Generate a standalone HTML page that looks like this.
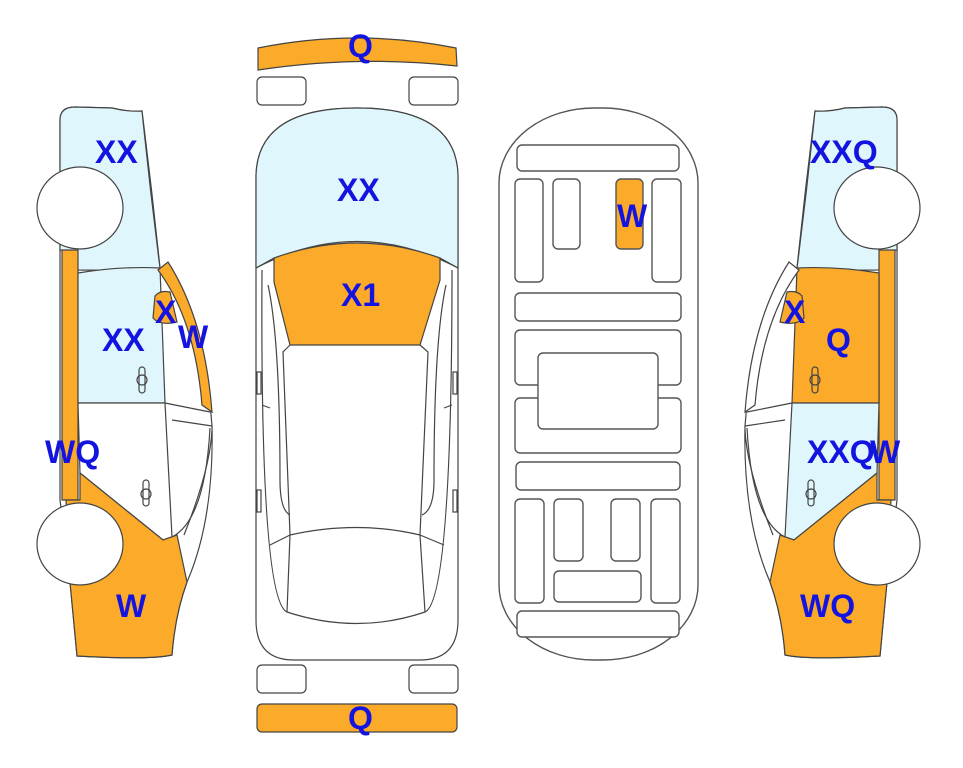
<!DOCTYPE html>
<html><head><meta charset="utf-8"><style>
html,body{margin:0;padding:0;background:#fff;}
svg{display:block;}
text{font-family:"Liberation Sans",Arial,sans-serif;font-weight:bold;font-size:32px;fill:#1414e0;}
.L{--top:#dff6fd;--strip:#fbaa2a;--dup:#dff6fd;--dlo:#fff;--bot:#fbaa2a;--pil:#fbaa2a;--blob:#fbaa2a;}
.R{--top:#dff6fd;--strip:#fbaa2a;--dup:#fbaa2a;--dlo:#dff6fd;--bot:#fbaa2a;--pil:#fff;--blob:#fbaa2a;}
</style></head><body>
<svg width="963" height="768" viewBox="0 0 963 768" xmlns="http://www.w3.org/2000/svg">
<defs>
<g id="side" stroke="#444" stroke-width="1.2">
  <path d="M60,120 Q60,107 75,107 L112,108 Q128,112 142,111 Q152,190 160,268 Q205,330 212,426 Q214,520 187,582 Q175,615 172,655 Q150,660 77,656 L70,582 L60,500 Z" fill="#fff"/>
  <path d="M60,120 Q60,107 75,107 L112,108 Q128,112 142,111 Q150,190 160,268 L150,272 Q110,270 77,270 L77,252 L60,250 Z" style="fill:var(--top)"/>
  <path d="M62,250 L78,250 L78,500 L62,500 Z" style="fill:var(--strip)"/>
  <path d="M78,273 Q120,266 160,268 L165,403 L78,403 Z" style="fill:var(--dup)"/>
  <path d="M78,403 L165,403 L172,537 L163,540 L80,473 Z" style="fill:var(--dlo)"/>
  <path d="M80,473 L163,540 L177,535 L187,582 Q175,615 172,655 Q150,660 77,656 L70,582 L66,500 L80,500 Z" style="fill:var(--bot)"/>
  <path d="M158,270 L168,262 Q205,320 212,412 L202,405 Q195,320 158,270 Z" style="fill:var(--pil)"/>
  <path d="M155,296 Q160,290 170,292 L177,322 Q160,326 153,318 Z" style="fill:var(--blob)"/>
  <path d="M165,403 L210,412 M172,420 L212,426 M172,537 Q205,520 210,428" fill="none"/>
  <path d="M184,535 Q210,470 212,430" fill="none"/>
  <rect x="139" y="367" width="6" height="26" rx="3" fill="none"/>
  <circle cx="142" cy="380" r="5" fill="none"/>
  <rect x="143" y="480" width="6" height="26" rx="3" fill="none"/>
  <circle cx="146" cy="494" r="5" fill="none"/>
  <ellipse cx="80" cy="208" rx="43" ry="41" fill="#fff"/>
  <ellipse cx="80" cy="544" rx="43" ry="41" fill="#fff"/>
</g>
</defs>

<g class="L"><use href="#side"/></g>
<g class="R" transform="translate(957,0) scale(-1,1)"><use href="#side"/></g>

<g stroke="#444" stroke-width="1.2">
  <path d="M258,48 Q357,28 456,48 L457,66 Q357,55 258,70 Z" fill="#fbaa2a"/>
  <rect x="257" y="77" width="49" height="28" rx="5" fill="#fff"/>
  <rect x="409" y="77" width="49" height="28" rx="5" fill="#fff"/>
  <path d="M256,175 Q258,108 357,108 Q456,108 458,175 L458,620 Q458,660 420,660 L294,660 Q256,660 256,620 Z" fill="#fff"/>
  <path d="M256,265 L256,175 Q258,108 357,108 Q456,108 458,175 L458,268 Q357,215 256,268 Z" fill="#dff6fd"/>
  <path d="M274,258 Q357,228 440,258 L440,280 L420,345 L290,345 L274,282 Z" fill="#fbaa2a"/>
  <g fill="none">
    <path d="M256,268 L274,258 M458,268 L440,258"/>
    <path d="M290,345 L283,352 L290,535 L287,612 Q357,635 425,612 L420,535 L428,352 L420,345"/>
    <path d="M290,535 Q357,520 420,535"/>
    <path d="M287,612 Q260,600 262,270 M425,612 Q452,600 452,270"/>
    <path d="M268,285 Q280,340 280,480 Q280,510 290,515 M446,285 Q434,340 434,480 Q434,510 422,515"/>
    <path d="M262,405 L270,408 M452,405 L444,408 M270,545 L290,535 M444,545 L420,535"/>
  </g>
  <rect x="257" y="372" width="4" height="22" fill="#fff"/>
  <rect x="453" y="372" width="4" height="22" fill="#fff"/>
  <rect x="257" y="490" width="4" height="22" fill="#fff"/>
  <rect x="453" y="490" width="4" height="22" fill="#fff"/>
  <rect x="257" y="665" width="49" height="28" rx="5" fill="#fff"/>
  <rect x="409" y="665" width="49" height="28" rx="5" fill="#fff"/>
  <rect x="257" y="704" width="200" height="28" rx="5" fill="#fbaa2a"/>
</g>

<g stroke="#555" stroke-width="1.4" fill="#fff">
  <rect x="499" y="108" width="199" height="552" rx="95" ry="75"/>
  <rect x="517" y="145" width="162" height="26" rx="5"/>
  <rect x="515" y="179" width="28" height="103" rx="5"/>
  <rect x="553" y="179" width="27" height="70" rx="5"/>
  <rect x="616" y="179" width="27" height="70" rx="5" fill="#fbaa2a"/>
  <rect x="652" y="179" width="29" height="103" rx="5"/>
  <rect x="515" y="293" width="166" height="28" rx="5"/>
  <rect x="515" y="330" width="166" height="55" rx="5"/>
  <rect x="515" y="398" width="166" height="55" rx="5"/>
  <rect x="538" y="353" width="120" height="76" rx="5"/>
  <rect x="516" y="462" width="164" height="28" rx="5"/>
  <rect x="515" y="499" width="29" height="104" rx="5"/>
  <rect x="554" y="499" width="29" height="62" rx="5"/>
  <rect x="611" y="499" width="29" height="62" rx="5"/>
  <rect x="651" y="499" width="29" height="104" rx="5"/>
  <rect x="554" y="571" width="87" height="31" rx="5"/>
  <rect x="517" y="611" width="162" height="26" rx="5"/>
</g>

<text x="95" y="163">XX</text>
<text x="155" y="323">X</text>
<text x="102" y="351">XX</text>
<text x="178" y="348">W</text>
<text x="45" y="463">WQ</text>
<text x="116" y="617">W</text>
<text x="348" y="57">Q</text>
<text x="337" y="201">XX</text>
<text x="341" y="306">X1</text>
<text x="348" y="729">Q</text>
<text x="617" y="227">W</text>
<text x="810" y="163">XXQ</text>
<text x="784" y="323">X</text>
<text x="826" y="351">Q</text>
<text x="807" y="463">XXQ</text>
<text x="870" y="463">W</text>
<text x="800" y="617">WQ</text>
</svg>
</body></html>
